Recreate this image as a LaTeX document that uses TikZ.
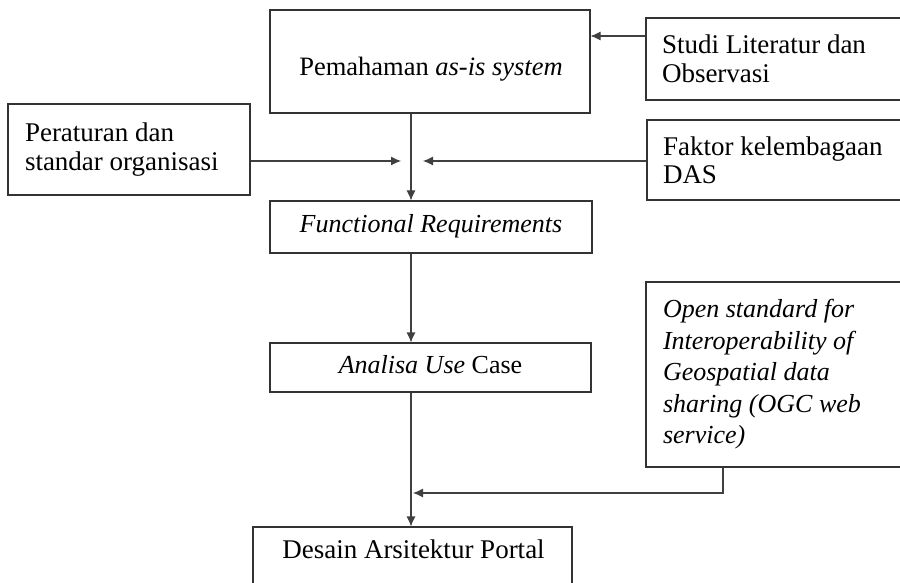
\documentclass[tikz,border=0pt]{standalone}
\usepackage{fontspec}
\setmainfont{Liberation Serif}
\usetikzlibrary{arrows.meta}
\begin{document}
\begin{tikzpicture}[x=1pt,y=-1pt,
  box/.style={draw=black!80, line width=1.1pt, inner sep=0pt},
  txt/.style={font=\fontsize{27}{29}\selectfont},
  arr/.style={draw=black!75, line width=1.1pt, -{Latex[length=10pt,width=9pt]}}]
\useasboundingbox (0,0) rectangle (900,583);
% boxes
\node[box, minimum width=320pt, minimum height=103pt] (asis) at (430,61.5) {};
\node[font=\fontsize{26.5}{29}\selectfont, anchor=base, inner sep=0pt] (asistext) at (431,76) {Pemahaman \textit{as-is system}};
\node[box, txt, minimum width=259pt, minimum height=82pt, align=flush left, text width=227pt, inner xsep=16pt] (studi) at (775.5,59) {Studi Literatur dan\\Observasi};
\node[box, txt, minimum width=242pt, minimum height=91pt, align=flush left, text width=208pt, inner xsep=17pt] (peraturan) at (129,149.5) {Peraturan dan\\standar organisasi};
\node[box, font=\fontsize{27}{28}\selectfont, minimum width=258pt, minimum height=80pt, align=flush left, text width=226pt, inner xsep=16pt] (faktor) at (776,160) {Faktor kelembagaan\\DAS};
\node[box, font=\fontsize{26}{29}\selectfont, minimum width=322pt, minimum height=52pt, text height=18pt, text depth=6pt] (fr) at (431,227) {\textit{Functional Requirements}};
\node[box, font=\fontsize{26}{29}\selectfont, minimum width=321pt, minimum height=49pt, text height=18pt, text depth=6pt] (analisa) at (430.5,367.5) {\textit{Analisa Use} Case};
\node[box, font=\fontsize{26}{31.5}\selectfont\itshape, minimum width=259pt, minimum height=185pt, align=flush left, text width=225pt, inner xsep=17pt] (ogc) at (775.5,374.5) {Open standard for\\Interoperability of\\Geospatial data\\sharing (OGC web\\service)};
\node[box, minimum width=319pt, minimum height=63pt] (desain) at (412.5,558.5) {};
\node[txt, anchor=base, inner sep=0pt] (desaintext) at (413.5,558) {Desain Arsitektur Portal};
% helper coordinates
\coordinate (a1) at (0,36);
\coordinate (cx) at (411,0);
\coordinate (jl) at (401,161);
\coordinate (jr) at (423,161);
\coordinate (ox) at (723,493);
\coordinate (jo) at (413,493);
% connectors
\draw[arr] (studi.west |- a1) -- (asis.east |- a1);
\draw[arr] (asis.south -| cx) -- (fr.north -| cx);
\draw[arr] (peraturan.east |- jl) -- (jl);
\draw[arr] (faktor.west |- jr) -- (jr);
\draw[arr] (fr.south -| cx) -- (analisa.north -| cx);
\draw[arr] (analisa.south -| cx) -- (desain.north -| cx);
\draw[arr] (ogc.south -| ox) -- (ox) -- (jo);
\end{tikzpicture}
\end{document}
